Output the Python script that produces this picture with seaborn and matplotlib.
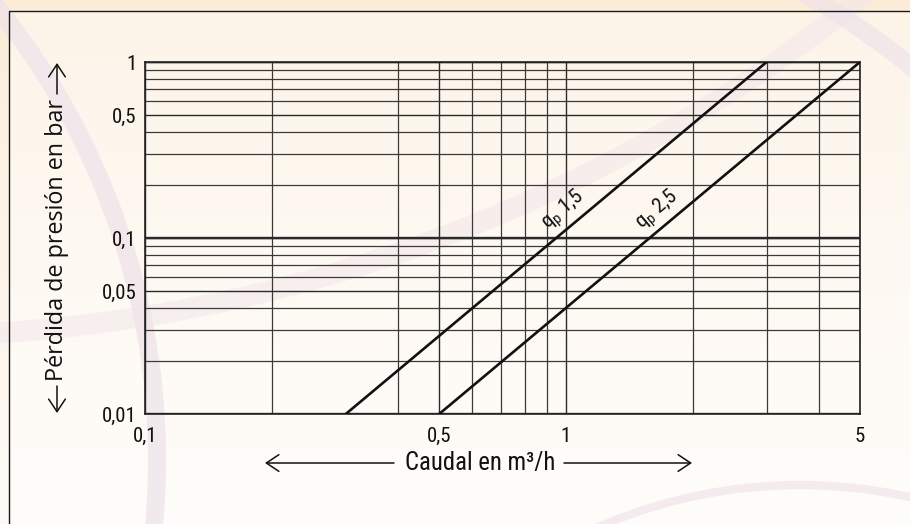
import numpy as np
import pandas as pd
import matplotlib
matplotlib.use("Agg")
import matplotlib.pyplot as plt
import seaborn as sns
from matplotlib import font_manager
from matplotlib.patches import Arc, FancyArrowPatch
from matplotlib.ticker import FixedLocator, FixedFormatter, NullFormatter

# ---------------- data ----------------
flow_qp15 = [0.3, 3.0]
loss_qp15 = [0.01, 1.0]
flow_qp25 = [0.5, 5.0]
loss_qp25 = [0.01, 1.0]
series_names = ["q$_\\mathregular{p}$ 1,5", "q$_\\mathregular{p}$ 2,5"]
label_flow = [0.99, 1.65]
label_loss = [0.1436, 0.1436]

x_major = [0.1, 0.5, 1, 5]
x_major_labels = ["0,1", "0,5", "1", "5"]
x_minor = [0.2, 0.4, 0.6, 0.7, 0.8, 0.9, 2, 3, 4]
y_major = [0.01, 0.05, 0.1, 0.5, 1]
y_major_labels = ["0,01", "0,05", "0,1", "0,5", "1"]
y_minor = [0.02, 0.03, 0.04, 0.06, 0.07, 0.08, 0.09,
           0.2, 0.3, 0.4, 0.6, 0.7, 0.8, 0.9]
x_title = "Caudal en m³/h"
y_title = "Pérdida de presión en bar"

df = pd.DataFrame({
    "flow": flow_qp15 + flow_qp25,
    "loss": loss_qp15 + loss_qp25,
    "serie": [series_names[0]] * len(flow_qp15) + [series_names[1]] * len(flow_qp25),
})

sns.set_theme(style="white")
installed = {f.name for f in font_manager.fontManager.ttflist}
narrow = None
for cand in ['Roboto Condensed', 'Open Sans Condensed', 'Liberation Sans Narrow',
             'DejaVu Sans Condensed', 'Noto Sans Condensed']:
    if cand in installed:
        narrow = cand
        break
narrow_fam = [narrow, 'DejaVu Sans'] if narrow else ['Open Sans', 'DejaVu Sans']
tick_size = 15.0 if narrow else 13.0
plt.rcParams['font.family'] = narrow_fam
plt.rcParams['mathtext.fontset'] = 'custom'
plt.rcParams['mathtext.rm'] = narrow_fam[0]
plt.rcParams['mathtext.it'] = narrow_fam[0]

W, H = 910, 524
fig = plt.figure(figsize=(W / 100, H / 100), dpi=100)

# ---------------- background ----------------
bg = fig.add_axes([0, 0, 1, 1])
bg.set_xlim(0, W)
bg.set_ylim(H, 0)
bg.axis('off')
yy, xx = np.mgrid[0:H, 0:W]
top = np.array([252, 236, 215]) / 255
bot = np.array([254, 251, 247]) / 255
t = (yy / H)[..., None] ** 0.8
img = top * (1 - t) + bot * t
inside = ((xx > 9) & (yy > 11))[..., None]
img = np.where(inside, img * 0.6 + np.array([1, 1, 1]) * 0.4, img)
bg.imshow(img, extent=[0, W, H, 0], aspect='auto', zorder=0, interpolation='bilinear')

arc_specs = [((-563, 460), 720, '#eee2ea', 13, 0.7),
             ((-100, -1200), 1536, '#f3e6ea', 15, 0.55),
             ((400, 700), 814, '#efe3ea', 13, 0.7),
             ((800, 989), 504, '#f1e5ec', 6, 0.7)]
for (c, r, col, lw, a) in arc_specs:
    bg.add_patch(Arc(c, 2 * r, 2 * r, theta1=0, theta2=360, color=col,
                     lw=lw, alpha=a, zorder=1))
bg.plot([9, 9, W + 5], [H + 5, 11, 11], color='#1a1a1a', lw=1.0, zorder=2)

# axis titles with arrows
xt = bg.text(480, 463, x_title, ha='center', va='center', fontsize=13, color='#111',
             zorder=3)
yt = bg.text(57, 240, y_title, ha='center', va='center', rotation=90, fontsize=13,
             color='#111', family=['Open Sans', 'DejaVu Sans'], zorder=3)
fig.canvas.draw()
rend = fig.canvas.get_renderer()
xt.set_fontsize(13 * 150 / xt.get_window_extent(rend).width)
yt.set_fontsize(13 * 282 / yt.get_window_extent(rend).height)

arrow_kw = dict(arrowstyle='->,head_length=9,head_width=6', mutation_scale=1,
                lw=1.1, color='#111', zorder=3, shrinkA=0, shrinkB=0)
for p0, p1 in [((394, 463), (265, 463)), ((564, 463), (692, 463)),
               ((57, 94), (57, 63)), ((57, 386), (57, 413))]:
    bg.add_patch(FancyArrowPatch(p0, p1, **arrow_kw))

# ---------------- chart ----------------
ax = fig.add_axes([145 / W, 1 - 414 / H, 715 / W, 352 / H])
ax.set_facecolor('none')
sns.lineplot(data=df, x='flow', y='loss', hue='serie', units='serie', estimator=None,
             palette=['#111111', '#111111'], legend=False, lw=1.9, sort=False, ax=ax,
             zorder=4)
ax.set_xscale('log')
ax.set_yscale('log')
ax.set_xlim(x_major[0], x_major[-1])
ax.set_ylim(y_major[0], y_major[-1])

ax.xaxis.set_major_locator(FixedLocator(x_major))
ax.xaxis.set_major_formatter(FixedFormatter(x_major_labels))
ax.xaxis.set_minor_locator(FixedLocator(x_minor))
ax.xaxis.set_minor_formatter(NullFormatter())
ax.yaxis.set_major_locator(FixedLocator(y_major))
ax.yaxis.set_major_formatter(FixedFormatter(y_major_labels))
ax.yaxis.set_minor_locator(FixedLocator(y_minor))
ax.yaxis.set_minor_formatter(NullFormatter())

ax.set_axisbelow(True)
ax.grid(which='major', color='#2a2a2a', lw=1.0)
ax.grid(which='minor', color='#3a3a3a', lw=0.9)
for v in y_major:
    if abs(np.log10(v) - round(np.log10(v))) < 1e-9:
        ax.axhline(v, color='#2a2a2a', lw=1.7, zorder=1)

ax.tick_params(axis='both', which='major', length=6, width=1.1, color='#222',
               labelsize=tick_size, labelcolor='#111', direction='out')
ax.tick_params(axis='x', which='major', pad=3)
ax.tick_params(axis='y', which='major', pad=0)
ax.tick_params(which='minor', length=0)
for s in ax.spines.values():
    s.set_visible(True)
    s.set_color('#222')
    s.set_linewidth(1.2)
ax.set_xlabel('')
ax.set_ylabel('')

# rotated line labels
fig.canvas.draw()
for fx, fy, name, lx, ly in [(flow_qp15, loss_qp15, series_names[0], label_flow[0], label_loss[0]),
                              (flow_qp25, loss_qp25, series_names[1], label_flow[1], label_loss[1])]:
    a = ax.transData.transform((fx[0], fy[0]))
    b = ax.transData.transform((fx[-1], fy[-1]))
    ang = np.degrees(np.arctan2(b[1] - a[1], b[0] - a[0]))
    ax.text(lx, ly, name, rotation=ang, rotation_mode='anchor', ha='center', va='center',
            fontsize=tick_size, color='#111', zorder=5)

fig.savefig('out.png', dpi=100)
